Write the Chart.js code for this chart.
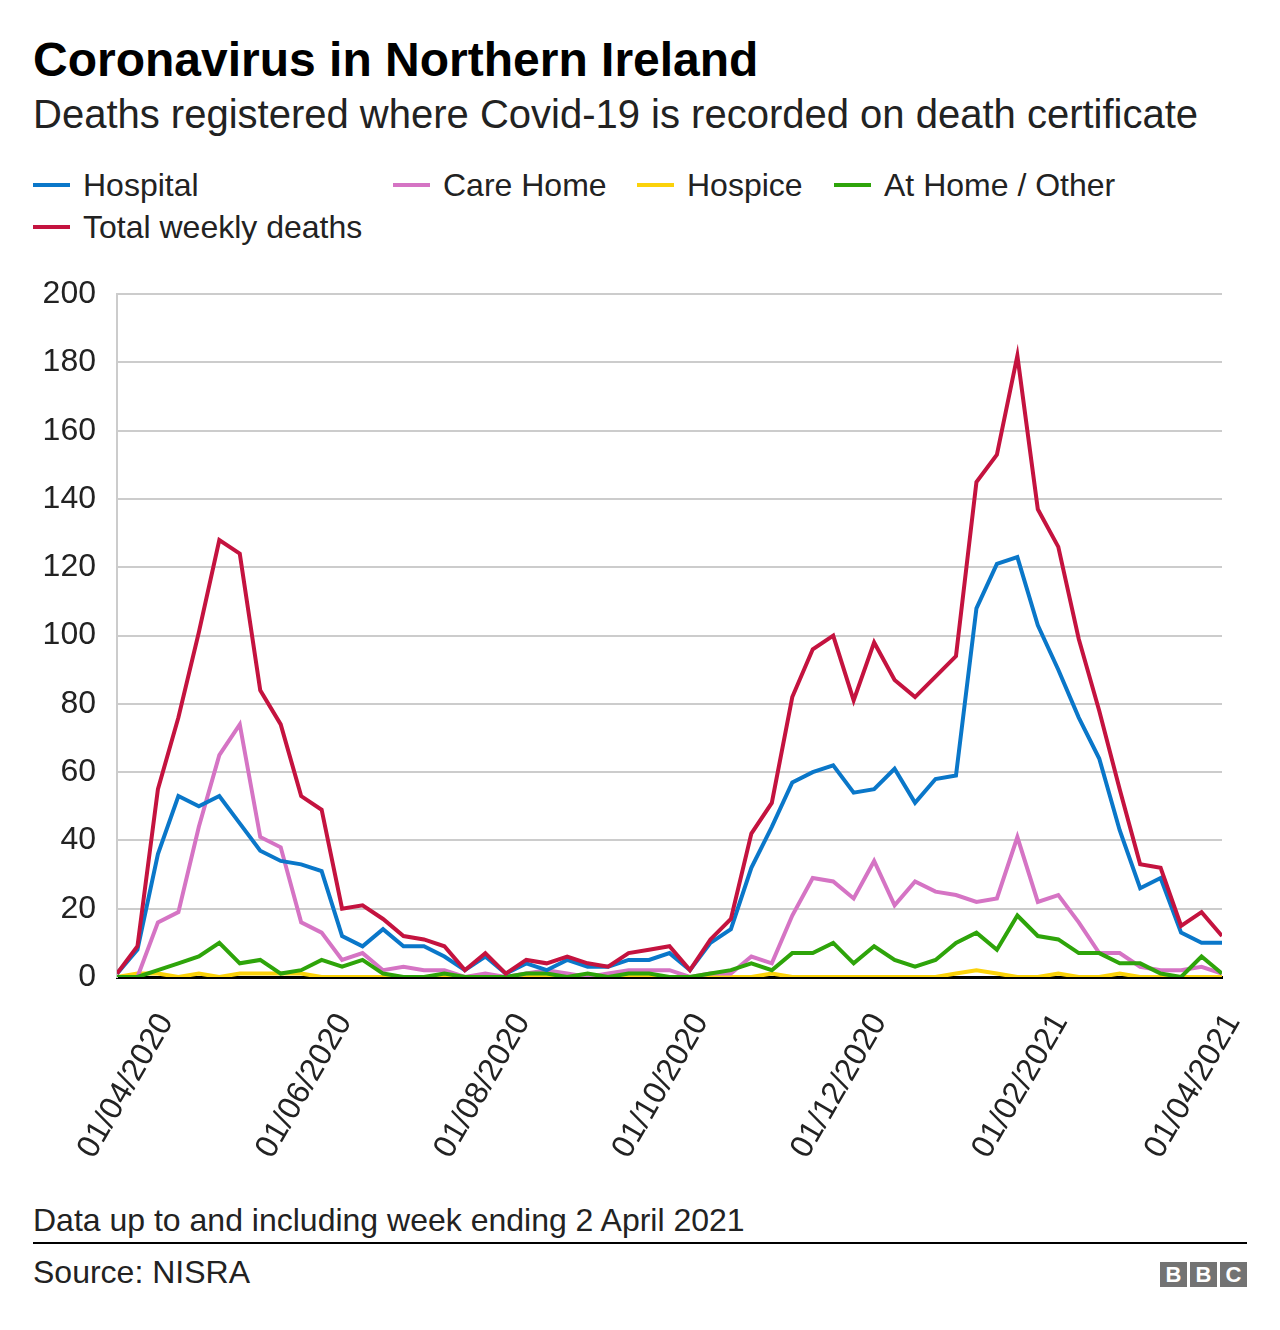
<!DOCTYPE html>
<html>
<head>
<meta charset="utf-8">
<script src="https://cdn.jsdelivr.net/npm/chart.js@4.4.0/dist/chart.umd.min.js"></script>
<style>
  body { margin: 0; background: #fff; font-family: "Liberation Sans", Arial, sans-serif; color: #222; }
  #wrap { position: relative; width: 1280px; height: 1330px; overflow: hidden; }
  .txt { position: absolute; white-space: nowrap; }
  #title { left: 33px; top: 36px; font-size: 48px; line-height: 48px; font-weight: bold; color: #000; }
  #subtitle { left: 33px; top: 94px; font-size: 40px; line-height: 40px; }
  .leg { position: absolute; font-size: 32px; line-height: 42px; white-space: nowrap; }
  .leg i { position: absolute; left: 0; top: 19px; width: 37px; height: 4px; }
  .leg span { margin-left: 50px; }
  #note { left: 33px; top: 1204px; font-size: 32px; line-height: 32px; }
  #rule { position: absolute; left: 33px; top: 1242px; width: 1214px; height: 2px; background: #000; }
  #source { left: 33px; top: 1256px; font-size: 32px; line-height: 32px; }
  #bbc { position: absolute; left: 1160px; top: 1262px; }
  #bbc b { float: left; width: 27px; height: 25px; margin-right: 3px; background: #737373; color: #fff;
           font-size: 22px; line-height: 25px; text-align: center; }
  #box { position: absolute; left: 0; top: 254px; width: 1280px; height: 940px; }
</style>
</head>
<body>
<div id="wrap">
  <div id="title" class="txt">Coronavirus in Northern Ireland</div>
  <div id="subtitle" class="txt">Deaths registered where Covid-19 is recorded on death certificate</div>
  <div id="legend"></div>
  <div id="box"><canvas id="chart" width="1280" height="940"></canvas></div>
  <div id="note" class="txt">Data up to and including week ending 2 April 2021</div>
  <div id="rule"></div>
  <div id="source" class="txt">Source: NISRA</div>
  <div id="bbc"><b>B</b><b>B</b><b style="margin-right:0">C</b></div>
</div>
<script>
// weekly deaths, weeks ending Friday, first week ending 20/03/2020
const firstWeekEnding = '20/03/2020';

const hospital  = [1,8,36,53,50, 53,45,37,34,33, 31,12,9,14,9, 9,6,2,6,1, 4,2,5,3,3, 5,5,7,2,10,
                   14,32,44,57,60, 62,54,55,61,51, 58,59,108,121,123, 103,90,76,64,43, 26,29,13,10,10];
const careHome  = [0,0,16,19,44, 65,74,41,38,16, 13,5,7,2,3, 2,2,0,1,0, 1,2,1,0,1, 2,2,2,0,1,
                   1,6,4,18,29, 28,23,34,21,28, 25,24,22,23,41, 22,24,16,7,7, 3,2,2,3,1];
const hospice   = [0,1,1,0,1, 0,1,1,1,1, 0,0,0,0,0, 0,0,0,0,0, 0,0,0,0,0, 0,0,0,0,0,
                   0,0,1,0,0, 0,0,0,0,0, 0,1,2,1,0, 0,1,0,0,1, 0,0,0,0,0];
const atHome    = [0,0,2,4,6, 10,4,5,1,2, 5,3,5,1,0, 0,1,0,0,0, 1,1,0,1,0, 1,1,0,0,1,
                   2,4,2,7,7, 10,4,9,5,3, 5,10,13,8,18, 12,11,7,7,4, 4,1,0,6,1];
const total     = [1,9,55,76,101, 128,124,84,74,53, 49,20,21,17,12, 11,9,2,7,1, 5,4,6,4,3, 7,8,9,2,11,
                   17,42,51,82,96, 100,81,98,87,82, 88,94,145,153,182, 137,126,99,78,55, 33,32,15,19,12];

const tickLabels = ['01/04/2020','01/06/2020','01/08/2020','01/10/2020','01/12/2020','01/02/2021','01/04/2021'];
const yTicks = [0,20,40,60,80,100,120,140,160,180,200];

const series = [
  { label: 'Hospital',            data: hospital, color: '#0a77c9', order: 1 },
  { label: 'Care Home',           data: careHome, color: '#d574c4', order: 3 },
  { label: 'Hospice',             data: hospice,  color: '#fbd20a', order: 4 },
  { label: 'At Home / Other',     data: atHome,   color: '#2ea40a', order: 2 },
  { label: 'Total weekly deaths', data: total,    color: '#c4133f', order: 0 }
];

const DAY = 86400000;
const toDay = s => {
  const [d, m, y] = s.split('/').map(Number);
  return Date.UTC(y, m - 1, d) / DAY;
};
const day0 = toDay(firstWeekEnding);
const tickDays = tickLabels.map(s => toDay(s) - day0);

// legend in html
const legPos = [[33,164],[393,164],[637,164],[834,164],[33,206]];
const legend = document.getElementById('legend');
series.forEach((s, i) => {
  const el = document.createElement('div');
  el.className = 'leg';
  el.style.left = legPos[i][0] + 'px';
  el.style.top = legPos[i][1] + 'px';
  el.innerHTML = `<i style="background:${s.color}"></i><span>${s.label}</span>`;
  legend.appendChild(el);
});

const font = { family: '"Liberation Sans", Arial, sans-serif', size: 32 };

new Chart(document.getElementById('chart'), {
  type: 'line',
  data: {
    datasets: series.map(s => ({
      label: s.label,
      data: s.data.map((v, i) => ({ x: i * 7, y: v })),
      borderColor: s.color,
      backgroundColor: s.color,
      borderWidth: 4,
      pointRadius: 0,
      tension: 0,
      order: s.order
    }))
  },
  options: {
    responsive: false,
    animation: false,
    events: [],
    layout: { padding: { top: 27, right: 58, left: 0, bottom: 0 } },
    plugins: { legend: { display: false }, tooltip: { enabled: false } },
    scales: {
      x: {
        type: 'linear',
        min: 0,
        max: (hospital.length - 1) * 7,
        afterBuildTicks: scale => { scale.ticks = tickDays.map(v => ({ value: v })); },
        afterFit: scale => { scale.height = 217; },
        grid: { display: false },
        border: { display: true, color: '#000', width: 3 },
        ticks: {
          autoSkip: false,
          minRotation: 60,
          maxRotation: 60,
          padding: 22,
          labelOffset: 14,
          color: '#222',
          font: font,
          callback: v => tickLabels[tickDays.indexOf(v)]
        }
      },
      y: {
        min: 0,
        max: 200,
        afterBuildTicks: scale => { scale.ticks = yTicks.map(v => ({ value: v })); },
        afterFit: scale => { scale.width = 117; },
        grid: {
          color: ctx => ctx.tick && ctx.tick.value === 0 ? 'rgba(0,0,0,0)' : '#cccccc',
          lineWidth: 2,
          drawTicks: false
        },
        border: { display: true, color: '#cccccc', width: 2 },
        ticks: { padding: 21, color: '#222', font: font }
      }
    }
  }
});
</script>
</body>
</html>
